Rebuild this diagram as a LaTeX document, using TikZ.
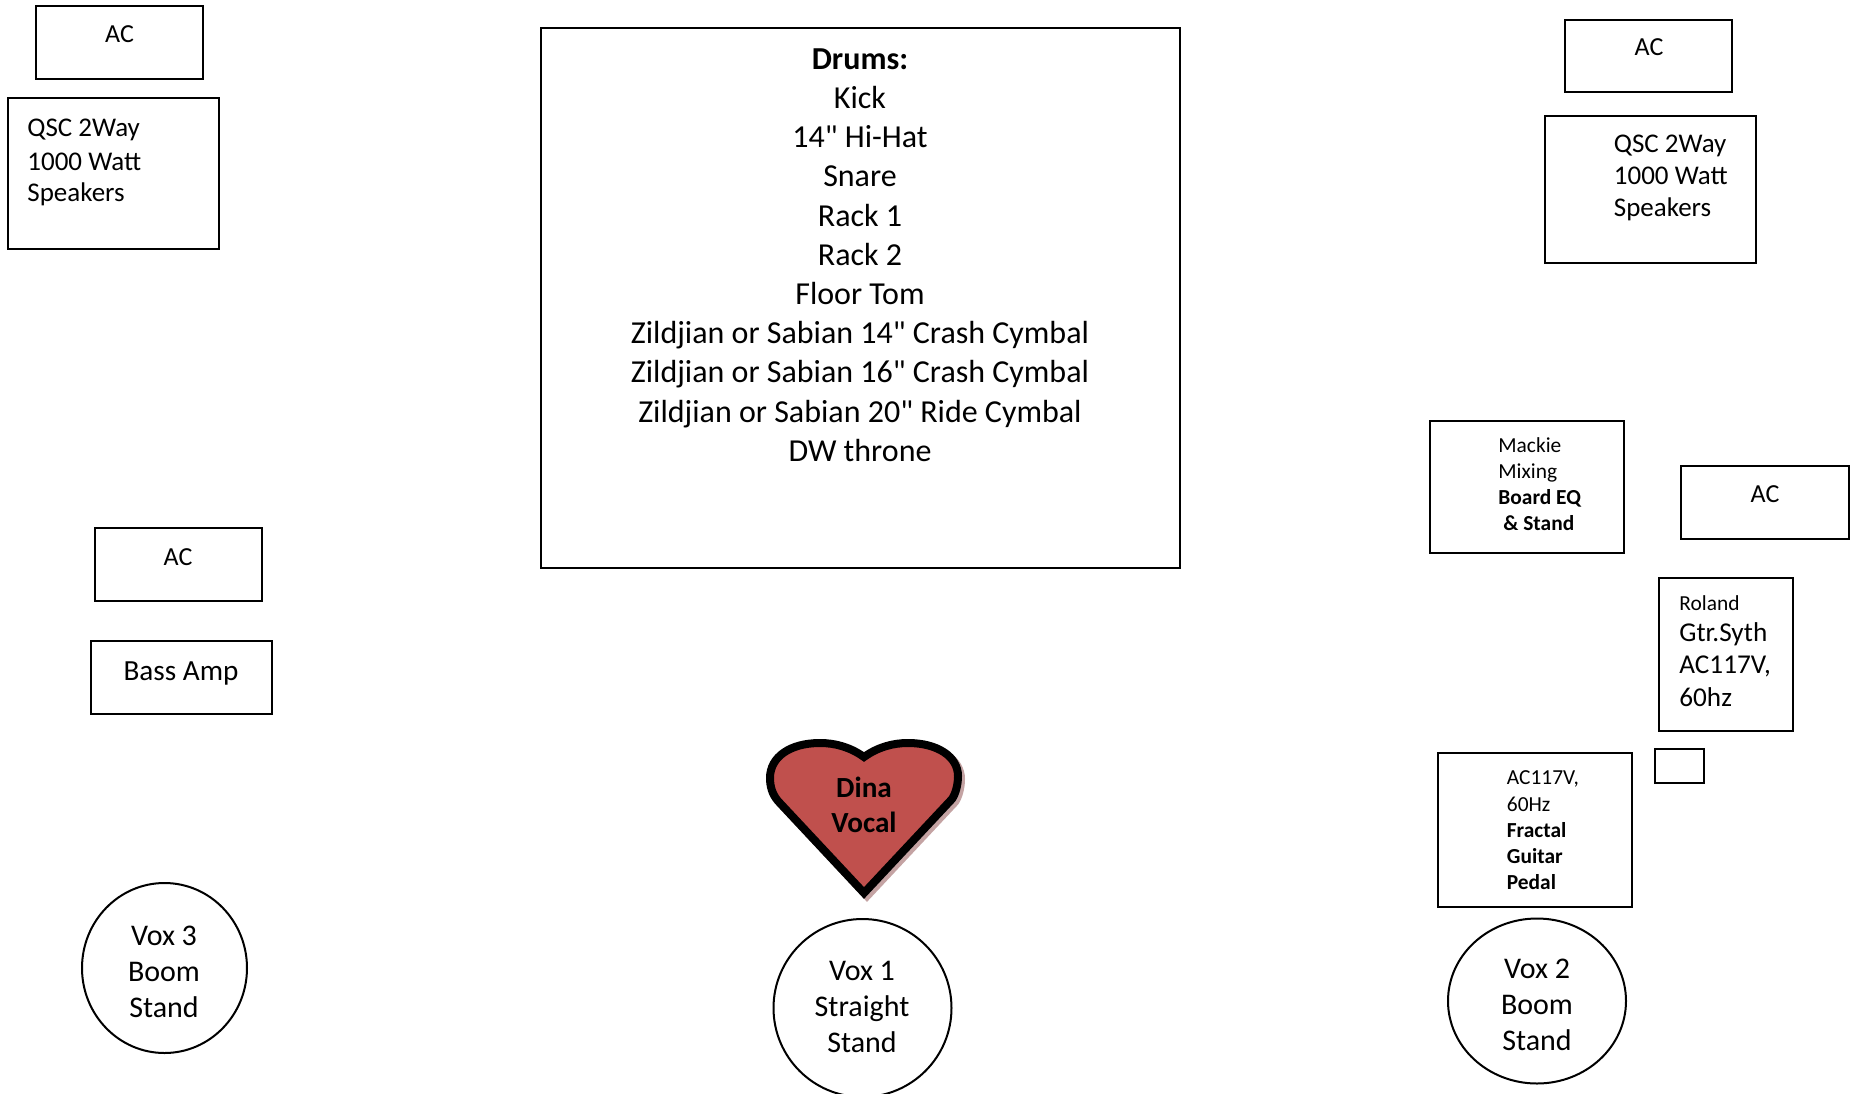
\documentclass[tikz,border=0pt]{standalone}
\usepackage{fontspec}
\setmainfont{Carlito}
\usetikzlibrary{shapes.geometric}
\definecolor{heartred}{HTML}{C0504D}
\definecolor{heartshade}{HTML}{C4A3A3}
\tikzset{
  gear/.style    = {draw, line width=1pt, rectangle, inner sep=0pt},
  mic/.style     = {draw, line width=1pt, ellipse, inner sep=0pt},
  miclbl/.style  = {inner sep=0pt, align=center, font=\fontsize{15}{18}\selectfont},
  txtsm/.style   = {inner sep=0pt, align=left, anchor=west,
                    font=\fontsize{10.7}{13.1}\selectfont},
  txtmd/.style   = {inner sep=0pt, align=left, anchor=west,
                    font=\fontsize{13.5}{16}\selectfont},
  txtac/.style   = {inner sep=0pt, font=\fontsize{13}{16}\selectfont},
}
\begin{document}
\begin{tikzpicture}[x=0.5pt, y=-0.5pt]
\useasboundingbox (0,0) rectangle (1859,1093);
\clip (0,0) rectangle (1859,1093);
% ---- left side ----
\node[gear, minimum width=83.5pt, minimum height=36.5pt] (acone) at (119.5,42.5) {};
\node[txtac] (aconetxt) at (119.5,34) {AC};
\node[gear, minimum width=105.5pt, minimum height=75.5pt] (qscone) at (113.5,173.5) {};
\node[txtmd, font=\fontsize{13.5}{16.5}\selectfont] (qsconetxt) at (27,162.5)
     {QSC 2Way\\[0.8pt]1000 Watt\\[-1pt]Speakers};
\node[gear, minimum width=83.5pt, minimum height=36.5pt] (acleft) at (178.5,564.5) {};
\node[txtac] (aclefttxt) at (178,557) {AC};
\node[gear, minimum width=90.5pt, minimum height=36.5pt] (bass) at (181,677.5) {};
\node[inner sep=0pt, font=\fontsize{14.6}{18}\selectfont] (basstxt) at (181,673) {Bass Amp};
% ---- drums ----
\node[gear, minimum width=319.5pt, minimum height=270pt] (drums) at (860,298) {};
\node[inner sep=0pt, align=center, font=\fontsize{16}{19.6}\selectfont] (drumstxt) at (860,255)
     {\textbf{Drums:}\\Kick\\14\textquotedbl{} Hi-Hat\\Snare\\Rack 1\\Rack 2\\Floor Tom\\
      Zildjian or Sabian 14\textquotedbl{} Crash Cymbal\\Zildjian or Sabian 16\textquotedbl{} Crash Cymbal\\
      Zildjian or Sabian 20\textquotedbl{} Ride Cymbal\\DW throne};
% ---- right side ----
\node[gear, minimum width=83.5pt, minimum height=36pt] (actwo) at (1648.5,55.5) {};
\node[txtac] (actwotxt) at (1649,47) {AC};
\node[gear, minimum width=105.5pt, minimum height=73.5pt] (qsctwo) at (1650.5,189) {};
\node[txtmd] (qsctwotxt) at (1613.5,177.5) {QSC 2Way\\1000 Watt\\Speakers};
\node[gear, minimum width=97pt, minimum height=66pt] (mackie) at (1527,487) {};
\node[txtsm] (mackietxt) at (1498,484)
     {Mackie\\Mixing\\\textbf{Board EQ}\\\textbf{\hspace{2.5pt}\& Stand}};
\node[gear, minimum width=84pt, minimum height=36.5pt] (acthree) at (1765,502.5) {};
\node[txtac] (acthreetxt) at (1765,494) {AC};
\node[gear, minimum width=67pt, minimum height=76.5pt] (roland) at (1726,654.5) {};
\node[txtmd, font=\fontsize{13.6}{16.3}\selectfont] (rolandtxt) at (1679,651)
     {{\fontsize{10.7}{13}\selectfont Roland}\\[-1pt]Gtr.Syth\\AC117V,\\60hz};
\node[gear, minimum width=24.5pt, minimum height=17pt] (plug) at (1679,766) {};
\node[gear, minimum width=97pt, minimum height=77pt] (fractal) at (1535,830) {};
\node[txtsm] (fractaltxt) at (1506.5,830.5)
     {AC117V,\\60Hz\\\textbf{Fractal}\\\textbf{Guitar}\\\textbf{Pedal}};
% ---- heart ----
\path[fill=heartshade, draw=heartshade, line width=4pt, shift={(3,3)}]
  (864,757) .. controls (850,747) and (835,743) .. (820,743)
  .. controls (790,743) and (770,757) .. (770,778)
  .. controls (770,786) and (772,794) .. (778,801) -- (864,893) -- (952,799)
  .. controls (956,793) and (958,784) .. (958,776)
  .. controls (958,757) and (938,743) .. (908,743)
  .. controls (893,743) and (878,747) .. (864,757) -- cycle;
\path[fill=heartred, draw=black, line width=4pt]
  (864,757) .. controls (850,747) and (835,743) .. (820,743)
  .. controls (790,743) and (770,757) .. (770,778)
  .. controls (770,786) and (772,794) .. (778,801) -- (864,893) -- (952,799)
  .. controls (956,793) and (958,784) .. (958,776)
  .. controls (958,757) and (938,743) .. (908,743)
  .. controls (893,743) and (878,747) .. (864,757) -- cycle;
\node[inner sep=0pt, align=center, font=\fontsize{14.6}{17.5}\selectfont\bfseries] (dina) at (864,805)
     {Dina\\Vocal};
% ---- vox ----
\node[mic, minimum width=82.5pt, minimum height=85pt] (voxthree) at (164.5,968) {};
\node[miclbl] (voxthreetxt) at (164,971.5) {Vox 3\\Boom\\Stand};
\node[mic, minimum width=89pt, minimum height=89pt] (voxone) at (862.5,1008) {};
\node[miclbl] (voxonetxt) at (862,1007) {Vox 1\\Straight\\Stand};
\node[mic, minimum width=89pt, minimum height=82.5pt] (voxtwo) at (1537,1001) {};
\node[miclbl] (voxtwotxt) at (1537,1005) {Vox 2\\Boom\\Stand};
\end{tikzpicture}
\end{document}
